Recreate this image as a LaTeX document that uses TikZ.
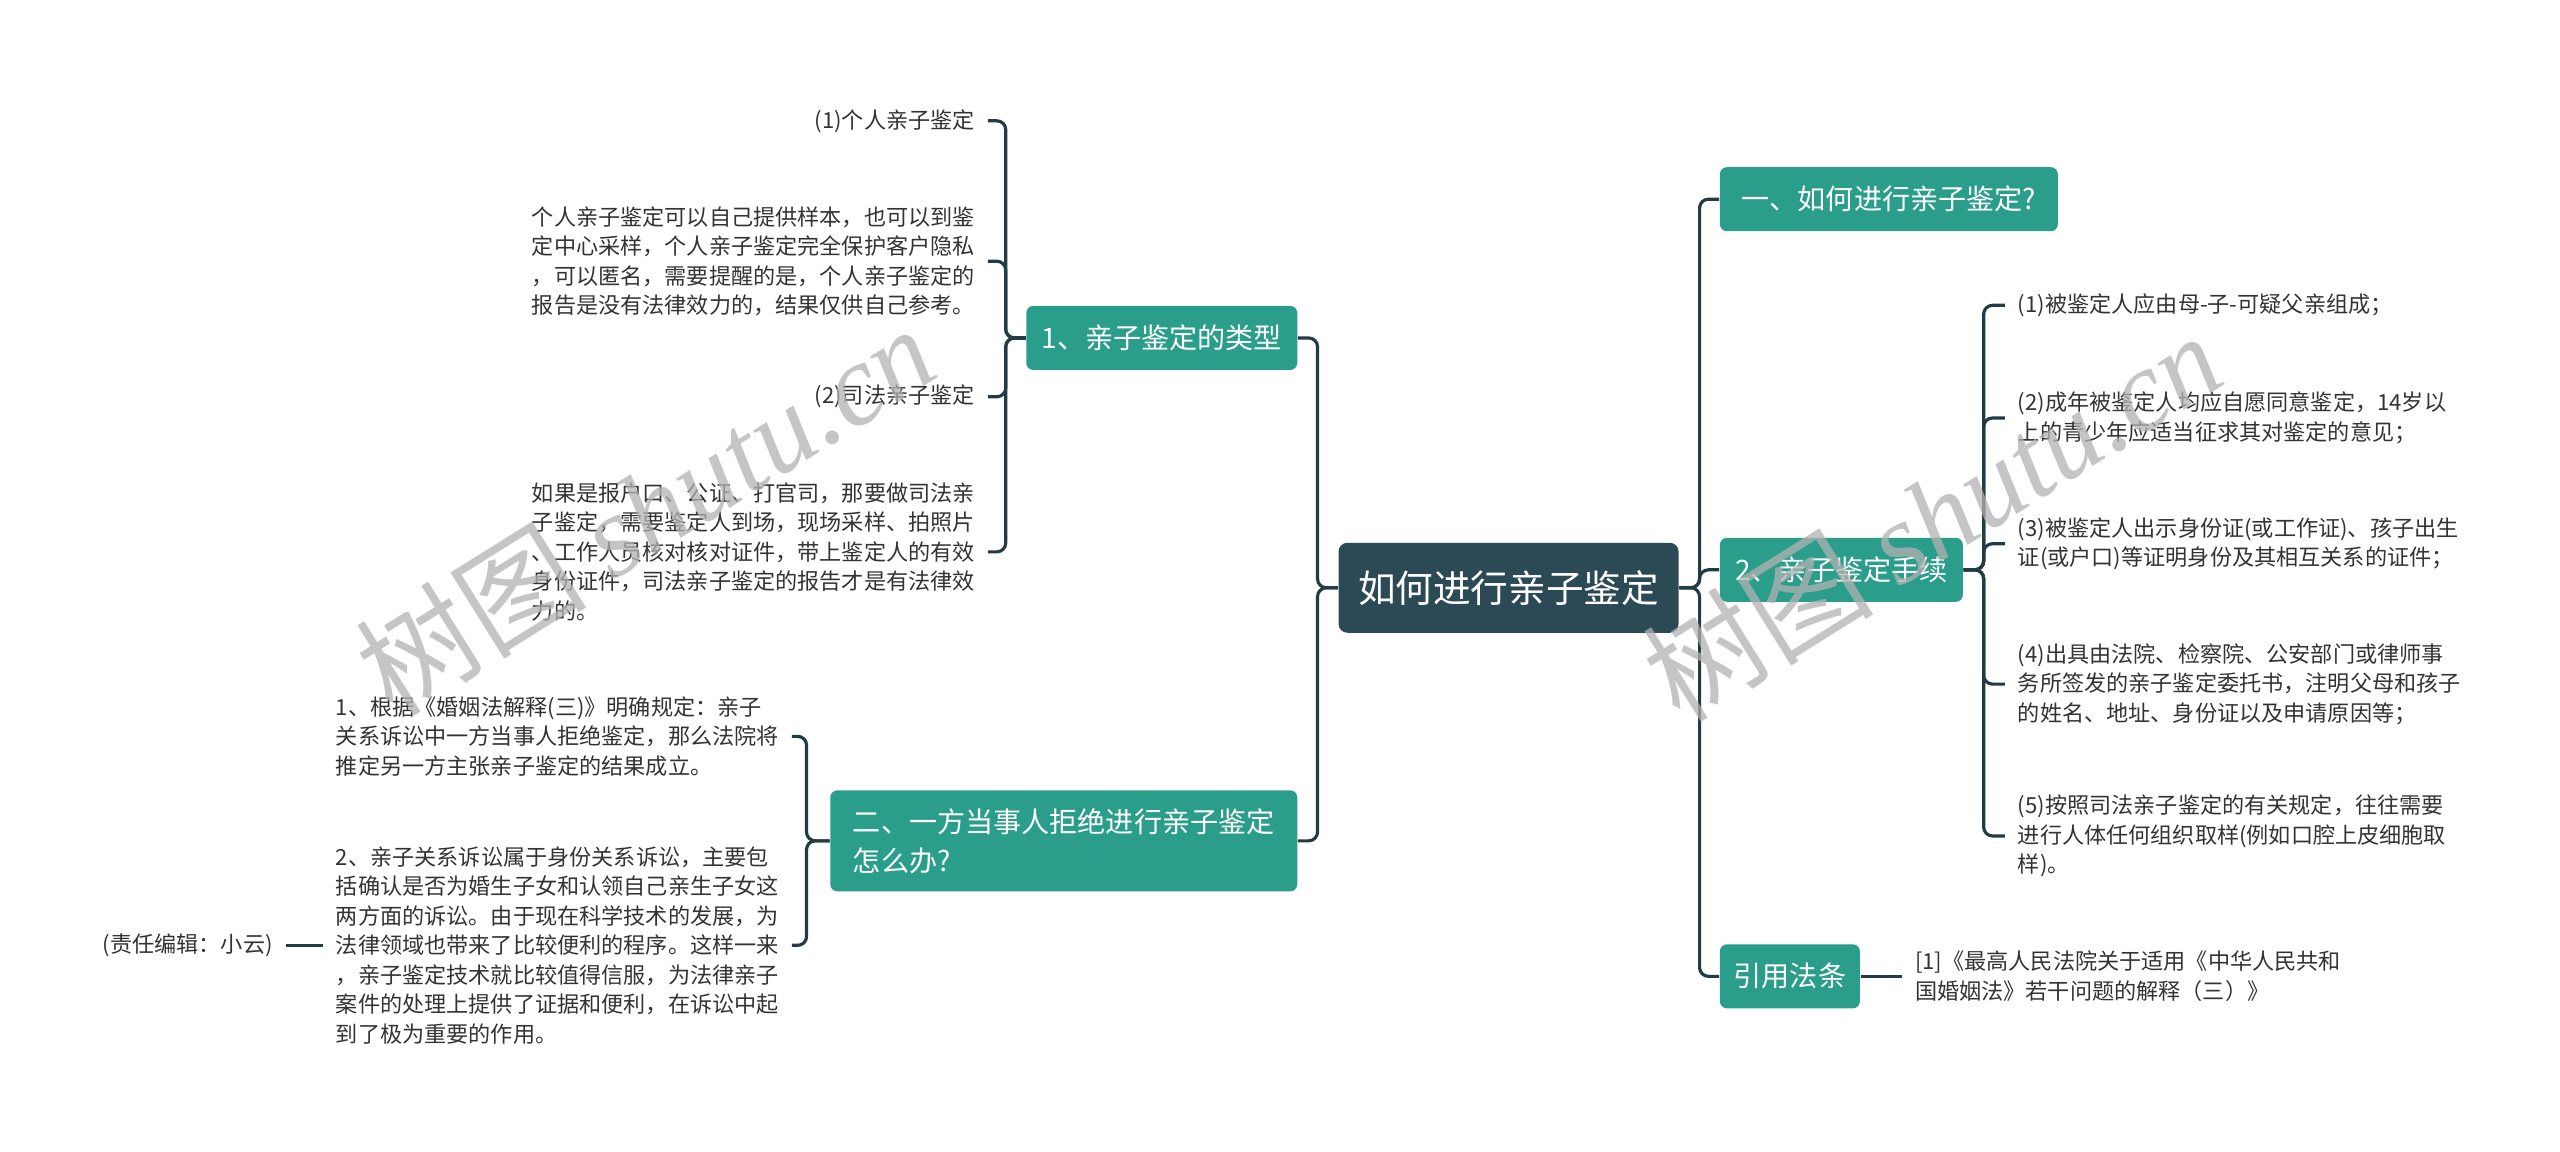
\documentclass[tikz,border=0pt]{standalone}
\usepackage{fontspec}
\setmainfont{Noto Sans CJK SC}
\newfontfamily\wmfont{Liberation Serif}
\usepackage{tikz}
\usetikzlibrary{calc}
\definecolor{rootc}{HTML}{2B4A56}
\definecolor{mteal}{HTML}{2A9D8B}
\definecolor{linec}{HTML}{223C46}
\definecolor{txtc}{HTML}{333333}
\tikzset{
  rootbox/.style={fill=rootc,rounded corners=2.5pt,text=white,
    font=\fontsize{10.7pt}{13pt}\selectfont},
  branch/.style={fill=mteal,rounded corners=2pt,text=white,minimum height=0.64cm,
    font=\fontsize{8pt}{11.1pt}\selectfont},
  leaf/.style={text=txtc,align=left,inner xsep=3.5pt,inner ysep=1pt,
    font=\fontsize{6.3pt}{8.4pt}\selectfont},
  conn/.style={draw=linec,line width=0.9pt,rounded corners=2.5pt},
  wmark/.style={text=black!30,opacity=0.75,rotate=32,
    font=\fontsize{33pt}{36pt}\selectfont}
}

\begin{document}
\begin{tikzpicture}[x=0.01633cm,y=-0.01633cm]
\useasboundingbox(0,0)rectangle(1568,705);
%root
\node[rootbox,minimum width=3.40cm,minimum height=0.90cm](root)at(924,360){如何进行亲子鉴定};
%right branches
\node[branch,anchor=west,minimum width=3.38cm](q1)at(1053,122){一、如何进行亲子鉴定?};
\node[branch,anchor=west,minimum width=2.43cm](q2)at(1053,349){2、亲子鉴定手续};
\node[branch,anchor=west,minimum width=1.40cm](law)at(1053,598){引用法条};
%left branches
\node[branch,anchor=east,minimum width=2.71cm](b1)at(795,207){1、亲子鉴定的类型};
\node[branch,anchor=east,align=left,minimum width=4.67cm,minimum height=1.01cm](b2)at(795,515){二、一方当事人拒绝进行亲子鉴定\\怎么办?};
%leaves of q2
\node[leaf,anchor=west](r1)at(1228,187){(1)被鉴定人应由母-子-可疑父亲组成；};
\node[leaf,anchor=west](r2)at(1228,256){(2)成年被鉴定人均应自愿同意鉴定，14岁以\\上的青少年应适当征求其对鉴定的意见；};
\node[leaf,anchor=west](r3)at(1228,333){(3)被鉴定人出示身份证(或工作证)、孩子出生\\证(或户口)等证明身份及其相互关系的证件；};
\node[leaf,anchor=west](r4)at(1228,419){(4)出具由法院、检察院、公安部门或律师事\\务所签发的亲子鉴定委托书，注明父母和孩子\\的姓名、地址、身份证以及申请原因等；};
\node[leaf,anchor=west](r5)at(1228,512){(5)按照司法亲子鉴定的有关规定，往往需要\\进行人体任何组织取样(例如口腔上皮细胞取\\样)。};
\node[leaf,anchor=west](lw)at(1165,598){[1]《最高人民法院关于适用《中华人民共和\\国婚姻法》若干问题的解释（三）》};
%leaves of b1
\node[leaf,anchor=east](l1)at(605,74){(1)个人亲子鉴定};
\node[leaf,anchor=east](l2)at(605,160){个人亲子鉴定可以自己提供样本，也可以到鉴\\定中心采样，个人亲子鉴定完全保护客户隐私\\，可以匿名，需要提醒的是，个人亲子鉴定的\\报告是没有法律效力的，结果仅供自己参考。};
\node[leaf,anchor=east](l3)at(605,243){(2)司法亲子鉴定};
\node[leaf,anchor=east](l4)at(605,338){如果是报户口、公证、打官司，那要做司法亲\\子鉴定，需要鉴定人到场，现场采样、拍照片\\、工作人员核对核对证件，带上鉴定人的有效\\身份证件，司法亲子鉴定的报告才是有法律效\\力的。};
%leaves of b2
\node[leaf,anchor=east](m1)at(485,451){1、根据《婚姻法解释(三)》明确规定：亲子\\关系诉讼中一方当事人拒绝鉴定，那么法院将\\推定另一方主张亲子鉴定的结果成立。};
\node[leaf,anchor=east](m2)at(485,579){2、亲子关系诉讼属于身份关系诉讼，主要包\\括确认是否为婚生子女和认领自己亲生子女这\\两方面的诉讼。由于现在科学技术的发展，为\\法律领域也带来了比较便利的程序。这样一来\\，亲子鉴定技术就比较值得信服，为法律亲子\\案件的处理上提供了证据和便利，在诉讼中起\\到了极为重要的作用。};
\node[leaf,anchor=east](ed)at(175,579){(责任编辑：小云)};
%spines
\coordinate(rs)at(1041,0);
\coordinate(ls)at(807,0);
\coordinate(s2)at(1215,0);
\coordinate(s1)at(616,0);
\coordinate(sm)at(494,0);
%connectors
\foreach \c in {q1,q2,law}{
\draw[conn](root.east)-|(rs|-\c.west)--(\c.west);
}
\foreach \c in {b1,b2}{
\draw[conn](root.west)-|(ls|-\c.east)--(\c.east);
}
\foreach \c in {r1,r2,r3,r4,r5}{
\draw[conn](q2.east)-|(s2|-\c.west)--(\c.west);
}
\foreach \c in {l1,l2,l3,l4}{
\draw[conn](b1.west)-|(s1|-\c.east)--(\c.east);
}
\foreach \c in {m1,m2}{
\draw[conn](b2.west)-|(sm|-\c.east)--(\c.east);
}
\draw[conn](law.east)--(lw.west);
\draw[conn](m2.west)--(ed.east);
%watermark
\node[wmark](wm1)at(395,312){树图 {\wmfont\itshape shutu.cn}};
\node[wmark](wm2)at(1183,316){树图 {\wmfont\itshape shutu.cn}};
\end{tikzpicture}
\end{document}
